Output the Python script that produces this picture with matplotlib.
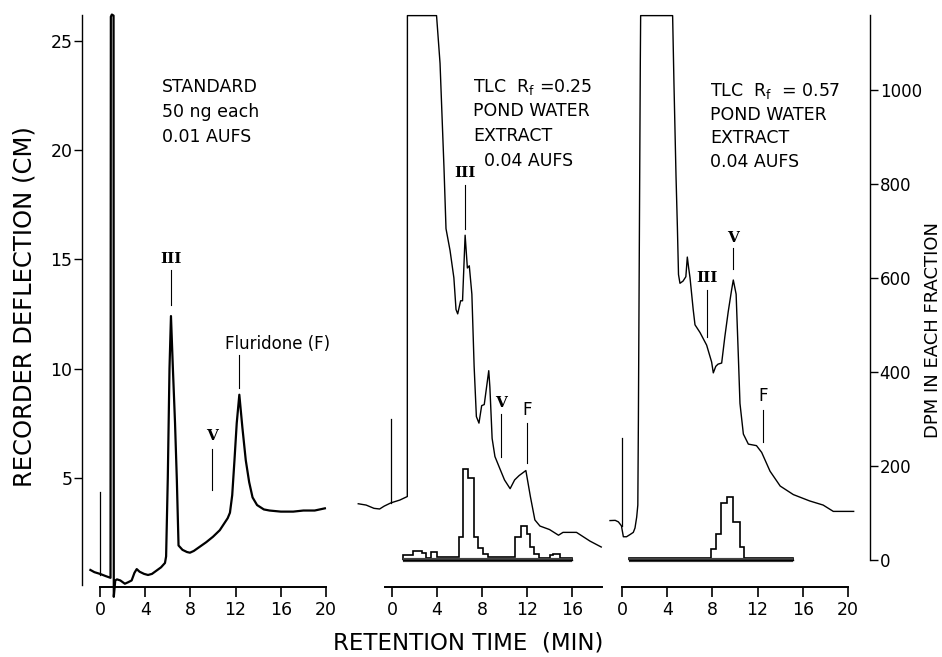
import numpy as np
import matplotlib
matplotlib.use("Agg")
import matplotlib.pyplot as plt

plt.rcParams['font.family'] = ['DejaVu Sans']

# ---------------- data ----------------
# Panel 1: standard chromatogram (retention time min, recorder deflection cm)
t_std = [-0.85, -0.5, 0.0, 0.5, 0.93, 0.96, 1.05, 1.2, 1.22, 1.35, 1.5, 1.8, 2.2, 2.5, 2.8,
         3.05, 3.25, 3.5, 3.9, 4.25, 4.6, 5.0, 5.4, 5.75, 5.85, 6.0, 6.15, 6.28, 6.45, 6.64,
         6.8, 6.95, 7.3, 7.7, 7.96, 8.3, 8.85, 9.4, 10.0, 10.6, 11.3, 11.5, 11.7, 11.9, 12.1,
         12.33, 12.6, 12.9, 13.2, 13.5, 13.9, 14.5, 15.0, 16.0, 17.1, 18.0, 19.0, 19.9]
cm_std = [0.78, 0.68, 0.6, 0.5, 0.42, 26.1, 26.2, 26.15, -0.45, 0.3, 0.35, 0.3, 0.15, 0.22, 0.3,
          0.65, 0.82, 0.7, 0.6, 0.55, 0.6, 0.75, 0.9, 1.1, 1.4, 5.0, 10.0, 12.4, 10.0, 7.5,
          4.9, 1.9, 1.7, 1.6, 1.57, 1.65, 1.85, 2.05, 2.3, 2.6, 3.15, 3.4, 4.2, 5.8, 7.5,
          8.8, 7.3, 5.8, 4.8, 4.1, 3.75, 3.55, 3.5, 3.45, 3.45, 3.5, 3.5, 3.6]

# Panel 2: TLC Rf 0.25 extract
t_p25 = [-3.0, -2.3, -1.6, -1.1, -0.7, -0.1, 0.7, 1.36, 1.37, 3.96, 4.27, 4.62, 4.8, 5.16, 5.5,
         5.69, 5.84, 6.1, 6.27, 6.5, 6.7, 6.87, 7.1, 7.3, 7.5, 7.73, 7.97, 8.2, 8.6, 8.7, 8.9,
         9.15, 9.6, 10.0, 10.5, 10.9, 11.3, 11.9, 12.3, 12.7, 13.15, 14.0, 14.8, 15.2, 16.4,
         17.0, 17.6, 18.6]
cm_p25 = [3.81, 3.75, 3.6, 3.57, 3.7, 3.85, 3.98, 4.14, 26.15, 26.15, 23.97, 19.2, 16.4, 15.4, 14.15,
          12.7, 12.5, 13.1, 13.1, 16.1, 14.6, 14.7, 13.4, 10.1, 7.8, 7.5, 8.3, 8.35, 9.9, 9.15, 6.8,
          5.97, 5.4, 4.9, 4.5, 4.9, 5.1, 5.33, 4.14, 3.07, 2.79, 2.63, 2.37, 2.5, 2.5,
          2.3, 2.1, 1.83]

# Panel 3: TLC Rf 0.57 extract
t_p57 = [-1.06, -0.6, -0.32, -0.05, 0.12, 0.4, 0.71, 1.0, 1.15, 1.3, 1.4, 1.45, 1.53, 1.62, 1.65,
         4.48, 4.6, 4.78, 4.9, 5.0, 5.13, 5.4, 5.65, 5.78, 5.9, 6.02, 6.3, 6.46, 6.9, 7.49, 7.93,
         8.08, 8.3, 8.5, 8.82, 9.1, 9.4, 9.7, 9.85, 10.1, 10.3, 10.44, 10.74, 11.18, 11.9, 12.36,
         13.1, 14.0, 15.16, 16.6, 17.8, 18.7, 19.6, 20.5]
cm_p57 = [3.04, 3.05, 2.98, 2.8, 2.3, 2.3, 2.4, 2.5, 2.7, 3.2, 3.75, 7.6, 15.3, 24.0, 26.15,
          26.15, 23.0, 18.8, 16.5, 14.3, 13.9, 14.0, 14.2, 15.1, 14.6, 14.15, 12.7, 12.0, 11.65, 11.07, 10.3,
          9.8, 10.1, 10.2, 10.25, 11.45, 12.6, 13.6, 14.05, 13.4, 10.5, 8.4, 7.0, 6.54, 6.47, 6.16,
          5.3, 4.62, 4.23, 3.94, 3.75, 3.46, 3.46, 3.46]

# Radioactivity histograms (DPM in each fraction)
edges_p25 = [0.95, 1.9, 2.64, 3.02, 3.44, 3.97, 5.99, 6.34, 6.79, 7.29, 7.68, 8.12, 8.56,
             10.93, 11.44, 11.97, 12.27, 12.62, 13.1, 14.05, 14.34, 14.93, 15.97]
dpm_p25 = [11, 20, 14, 4, 18, 6, 50, 193, 175, 50, 25, 13, 6, 48, 72, 56, 28, 13, 5, 10, 13, 5]
edges_p57 = [0.65, 7.9, 8.3, 8.73, 9.32, 9.85, 10.4, 10.8, 15.1]
dpm_p57 = [5, 23, 56, 121, 135, 80, 28, 5]

# Peak labels: (text, x, label y, line top, line bottom)
labels_std = [("III", 6.28, 15.0, 14.5, 12.9), ("V", 9.88, 6.9, 6.3, 4.45)]
labels_p25 = [("III", 6.49, 18.97, 18.4, 16.4), ("V", 9.66, 8.4, 7.9, 5.97)]
labels_p57 = [("III", 7.55, 14.15, 13.6, 11.45), ("V", 9.8, 15.98, 15.5, 14.55)]
f_p25 = (11.97, 8.1, 7.5, 5.67)
f_p57 = (12.45, 8.72, 8.1, 6.64)
flur_std = (15.7, 11.1, 12.33, 10.6, 9.1)

# injection marks (x, y0, y1)
inj = [(0.0, 0.55, 4.36), (-0.09, 3.85, 7.7), (0.03, 2.8, 6.83)]

xticks_full = [0, 4, 8, 12, 16, 20]
xticks_mid = [0, 4, 8, 12, 16]
yticks_cm = [5, 10, 15, 20, 25]
yticks_dpm = [0, 200, 400, 600, 800, 1000]

# ---------------- layout ----------------
W, H = 942, 657
fig = plt.figure(figsize=(W / 100, H / 100), dpi=100)

y_bot_px, y_top_px = 587, 15
cm_per_px = 1 / 21.85
cm_top = (y_bot_px - y_top_px) * cm_per_px
dpm_lo = (560 - y_bot_px) / 0.47
dpm_hi = (560 - y_top_px) / 0.47


def make_ax(px_left, px_right, x0_px, px_per_min):
    ax = fig.add_axes([px_left / W, (H - y_bot_px) / H, (px_right - px_left) / W,
                       (y_bot_px - y_top_px) / H])
    ax.set_xlim((px_left - x0_px) / px_per_min, (px_right - x0_px) / px_per_min)
    ax.set_ylim(0, cm_top)
    for s in ['top', 'right', 'left']:
        ax.spines[s].set_visible(False)
    ax.patch.set_alpha(0)
    ax.tick_params(axis='x', direction='out', length=7, width=1.2, labelsize=12.5, pad=3)
    ax.spines['bottom'].set_linewidth(1.4)
    return ax

ax1 = make_ax(82, 332, 100, 11.3)
ax2 = make_ax(340, 605, 392, 11.25)
ax3 = make_ax(606, 870, 622, 11.3)

# left axis
ax1.spines['left'].set_visible(True)
ax1.spines['left'].set_bounds(0.1, 26.2)
ax1.spines['left'].set_linewidth(1.0)
ax1.set_yticks(yticks_cm)
ax1.set_yticklabels([str(v) for v in yticks_cm])
ax1.tick_params(axis='y', direction='out', length=6, width=1.0, labelsize=12.5, pad=1)
ax1.set_xticks(xticks_full)
ax1.spines['bottom'].set_bounds(0, 20)

ax2.set_yticks([])
ax2.set_xticks(xticks_mid)
ax2.spines['bottom'].set_bounds(-0.62, 18.67)

ax3.set_yticks([])
ax3.set_xticks(xticks_full)
ax3.spines['bottom'].set_bounds(0, 20)

# DPM axes
ax2d = ax2.twinx()
ax3d = ax3.twinx()
for a in (ax2d, ax3d):
    a.set_ylim(dpm_lo, dpm_hi)
    for s in ['top', 'left', 'bottom', 'right']:
        a.spines[s].set_visible(False)
ax2d.set_yticks([])
ax3d.spines['right'].set_visible(True)
ax3d.spines['right'].set_bounds(0, dpm_hi)
ax3d.spines['right'].set_linewidth(1.0)
ax3d.set_yticks(yticks_dpm)
ax3d.set_yticklabels([str(v) for v in yticks_dpm])
ax3d.tick_params(axis='y', direction='out', length=6, width=1.0, labelsize=12, pad=1)

# chromatograms
ax1.plot(t_std, cm_std, color='black', lw=1.6, clip_on=False, solid_joinstyle='round')
ax2.plot(t_p25, cm_p25, color='black', lw=1.0, clip_on=False)
ax3.plot(t_p57, cm_p57, color='black', lw=1.0, clip_on=False)

# injection marks
for ax, (x, y0, y1) in zip((ax1, ax2, ax3), inj):
    ax.plot([x, x], [y0, y1], color='black', lw=0.9, clip_on=False)

# histograms
for a, e, v in ((ax2d, edges_p25, dpm_p25), (ax3d, edges_p57, dpm_p57)):
    a.stairs(v, e, baseline=0, color='black', lw=1.2)
    a.plot([e[0], e[-1]], [0, 0], color='#444444', lw=3.0, solid_capstyle='butt')
    a.plot([e[0], e[-1]], [0, 0], color='black', lw=1.0)

# peak labels
roman_kw = dict(family='DejaVu Serif', fontweight='bold', fontsize=11, ha='center', va='center')
for ax, labs in ((ax1, labels_std), (ax2, labels_p25), (ax3, labels_p57)):
    for txt, x, ly, l0, l1 in labs:
        ax.text(x, ly, txt, **roman_kw)
        ax.plot([x, x], [l0, l1], color='black', lw=0.8)

for ax, (x, ly, l0, l1) in ((ax2, f_p25), (ax3, f_p57)):
    ax.text(x, ly, "F", fontsize=12, ha='center', va='center')
    ax.plot([x, x], [l0, l1], color='black', lw=0.8)

tx, ty, lx, l0, l1 = flur_std
ax1.text(tx, ty, "Fluridone (F)", fontsize=12, ha='center', va='center')
ax1.plot([lx, lx], [l0, l1], color='black', lw=0.8)

# panel descriptions
txt_kw = dict(fontsize=12.5, ha='left', va='center')
for i, line in enumerate(["STANDARD", "50 ng each", "0.01 AUFS"]):
    ax1.text(5.5, 22.9 - i * 1.15, line, **txt_kw)
for i, line in enumerate(["TLC  R$_\\mathrm{f}$ =0.25", "POND WATER", "EXTRACT", "  0.04 AUFS"]):
    ax2.text(7.23, 22.9 - i * 1.13, line, **txt_kw)
for i, line in enumerate(["TLC  R$_\\mathrm{f}$  = 0.57", "POND WATER", "EXTRACT", "0.04 AUFS"]):
    ax3.text(7.79, 22.7 - i * 1.08, line, **txt_kw)

# axis titles
fig.text(25 / W, (H - 307) / H, "RECORDER DEFLECTION (CM)", rotation=90,
         ha='center', va='center', fontsize=17.5)
fig.text(468 / W, (H - 643) / H, "RETENTION TIME  (MIN)", ha='center', va='center',
         fontsize=16.5)
fig.text(933 / W, (H - 330) / H, "DPM IN EACH FRACTION", rotation=90,
         ha='center', va='center', fontsize=13)

fig.savefig("out.png", dpi=100)
